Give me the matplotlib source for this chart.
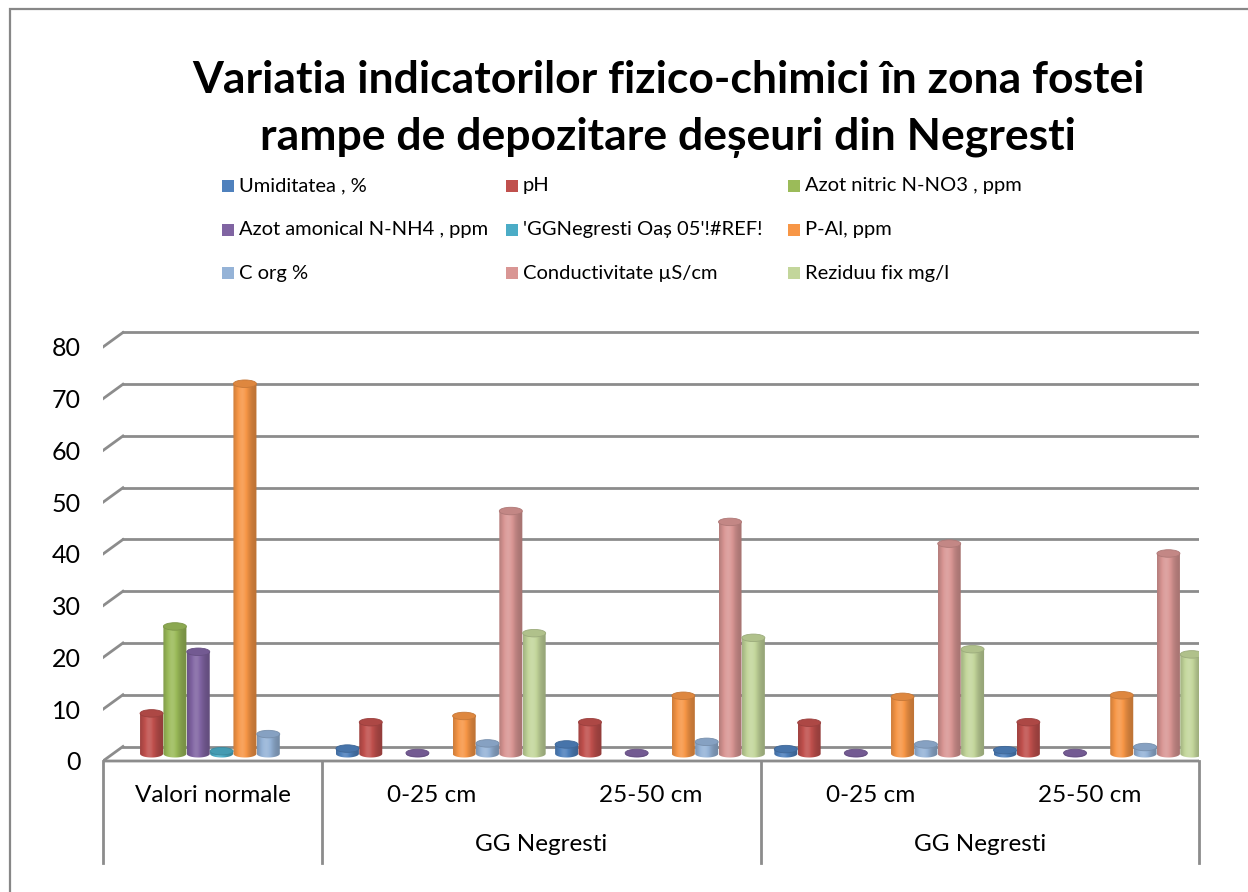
import numpy as np
import matplotlib
matplotlib.use('Agg')
import matplotlib.pyplot as plt
from matplotlib.patches import Polygon, Ellipse, Rectangle
from matplotlib.colors import to_rgb

plt.rcParams['font.family'] = ['Lato', 'DejaVu Sans']

# data
categories = ['Valori normale', '0-25 cm', '25-50 cm', '0-25 cm', '25-50 cm']
groups = ['GG Negresti', 'GG Negresti']
nan = np.nan
umiditatea = [nan, 1.0, 1.8, 0.9, 0.7]
ph = [7.8, 6.1, 6.1, 6.0, 6.1]
azot_nitric = [24.6, nan, nan, nan, nan]
azot_amonical = [19.7, 0.15, 0.15, 0.15, 0.15]
ref_err = [0.5, nan, nan, nan, nan]
p_al = [71.5, 7.3, 11.2, 11.0, 11.3]
c_org = [3.8, 2.0, 2.3, 1.8, 1.3]
conductivitate = [nan, 46.9, 44.8, 40.6, 38.7]
reziduu = [nan, 23.3, 22.4, 20.2, 19.2]

names = ['Umiditatea , %', 'pH', 'Azot nitric N-NO3 , ppm',
         'Azot amonical N-NH4 , ppm', "'GGNegresti Oaș 05'!#REF!", 'P-Al, ppm',
         'C org %', 'Conductivitate µS/cm', 'Reziduu fix mg/l']
series = [umiditatea, ph, azot_nitric, azot_amonical, ref_err, p_al,
          c_org, conductivitate, reziduu]
colors = ['#4F81BD', '#C0504D', '#9BBB59', '#8064A2', '#4BACC6', '#F79646',
          '#95B3D7', '#D99694', '#C3D69B']

W, H = 1248, 892
fig = plt.figure(figsize=(W / 100, H / 100), dpi=100)

def fx(px):
    return px / W

def fy(py):
    return 1 - py / H

# plot area: front floor from x=103..1199 px, value 0 at y=761 px, 5.175 px per unit
ax = fig.add_axes([fx(103), fy(864.5), fx(1096), (864.5 - 321.1) / H])
ax.set_xlim(-0.5, 4.5)
ax.set_ylim(-20, 85)
for s in ax.spines.values():
    s.set_visible(False)
ax.set_xticks([])
ax.set_yticks(range(0, 81, 10))
ax.tick_params(axis='y', length=0, pad=16, labelsize=18)

grid_c = '#8C8C8C'
dxb, dyb = 0.091, 2.8   # back wall offset
dxm, dym = 0.041, 1.4   # middle depth, where the cylinders stand

for v in range(0, 81, 10):
    ax.plot([-0.5 + dxb, 4.5 + dxb], [v + dyb, v + dyb], color=grid_c, lw=2, zorder=1)
    ax.plot([-0.5, -0.5 + dxb], [v, v + dyb], color=grid_c, lw=2, zorder=1)
ax.plot([-0.5, 4.5, 4.5 + dxb], [0, 0, dyb], color=grid_c, lw=2, zorder=1)

# category box below the floor
for xb in [-0.5, 0.5, 2.5, 4.5]:
    ax.plot([xb, xb], [0, -19.7], color=grid_c, lw=2, clip_on=False, zorder=1)
for i, c in enumerate(categories):
    ax.text(i, -6.6, c, ha='center', va='center', fontsize=17.5)
ax.text(1.5, -16.2, groups[0], ha='center', va='center', fontsize=17.5)
ax.text(3.5, -16.2, groups[1], ha='center', va='center', fontsize=17.5)

# cylinders
bw = 0.105
step = 0.1065
eh = 1.45
t = np.linspace(0, 1, 60)
prof = 0.76 + 0.32 * np.exp(-((t - 0.38) / 0.32) ** 2)

def shade(col):
    base = np.array(to_rgb(col))
    out = np.empty((1, len(t), 3))
    for k, f in enumerate(prof):
        if f <= 1:
            out[0, k] = base * f
        else:
            out[0, k] = base + (1 - base) * (f - 1) * 1.6
    return np.clip(out, 0, 1)

for j, (vals, col) in enumerate(zip(series, colors)):
    grad = shade(col)
    for i, v in enumerate(vals):
        if np.isnan(v):
            continue
        cx = i + (j - 4) * step + dxm
        x0, x1 = cx - bw / 2, cx + bw / 2
        bot, top = dym, dym + v
        th = np.linspace(0, -np.pi, 40)
        arc = np.column_stack([cx + bw / 2 * np.cos(th), bot + eh / 2 * np.sin(th)])
        pts = np.vstack([[x0, top], [x1, top], arc])
        poly = Polygon(pts, closed=True, transform=ax.transData, facecolor='none',
                       edgecolor='none')
        ax.add_patch(poly)
        im = ax.imshow(grad, extent=(x0, x1, bot - eh, top), aspect='auto',
                       zorder=3, interpolation='bilinear')
        im.set_clip_path(poly)
        capc = np.array(to_rgb(col)) * 0.9
        ax.add_patch(Ellipse((cx, top), bw, eh, facecolor=capc,
                             edgecolor=np.array(to_rgb(col)) * 0.8, lw=0.6, zorder=4))

ax.set_xlim(-0.5, 4.5)
ax.set_ylim(-20, 85)

# title
fig.text(fx(668), fy(80), 'Variatia indicatorilor fizico-chimici în zona fostei',
         ha='center', va='center', fontsize=32, fontweight='bold')
fig.text(fx(668), fy(137), 'rampe de depozitare deșeuri din Negresti',
         ha='center', va='center', fontsize=32, fontweight='bold')

# legend
col_x = [222, 506, 788]
row_y = [186, 230, 273]
for k, (n, col) in enumerate(zip(names, colors)):
    r, c = divmod(k, 3)
    fig.patches.append(Rectangle((fx(col_x[c]), fy(row_y[r] + 6)), fx(12), 12 / H,
                                 transform=fig.transFigure, facecolor=col,
                                 edgecolor='none'))
    fig.text(fx(col_x[c] + 17), fy(row_y[r]), n, ha='left', va='center', fontsize=14.5)

# outer frame
fig.patches.append(Rectangle((fx(10), fy(H + 20)), fx(W + 20), (H + 20 - 9) / H,
                             transform=fig.transFigure, facecolor='none',
                             edgecolor='#878787', lw=1.6))

fig.savefig('out.png', dpi=100)
